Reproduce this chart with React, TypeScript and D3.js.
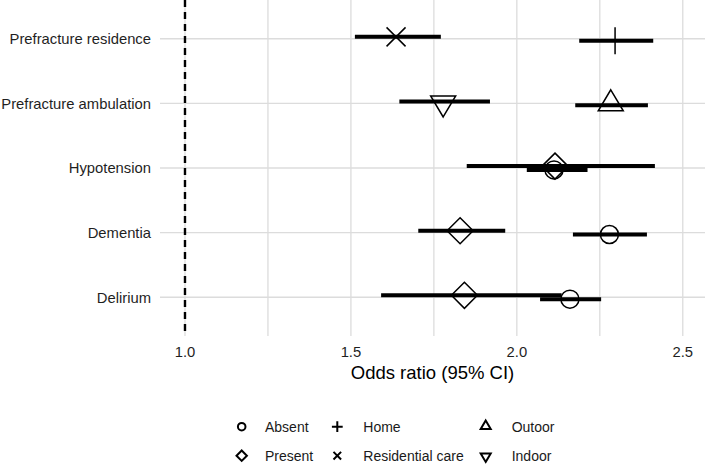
import React from "react";
import * as d3 from "d3";

// ---- data ----
const categories = [
  "Prefracture residence",
  "Prefracture ambulation",
  "Hypotension",
  "Dementia",
  "Delirium",
];
// first series in each row (upper in dodge)
const levelA = ["Residential care", "Indoor", "Present", "Present", "Present"];
const orA = [1.636, 1.778, 2.115, 1.829, 1.842];
const loA = [1.512, 1.646, 1.849, 1.703, 1.591];
const hiA = [1.771, 1.919, 2.416, 1.965, 2.135];
// second series in each row (lower in dodge)
const levelB = ["Home", "Outoor", "Absent", "Absent", "Absent"];
const orB = [2.296, 2.283, 2.112, 2.279, 2.16];
const loB = [2.188, 2.176, 2.03, 2.169, 2.07];
const hiB = [2.411, 2.395, 2.213, 2.392, 2.254];

const xTicks = [1.0, 1.5, 2.0, 2.5];
const xMinor = [1.25, 1.75, 2.25];
const refValue = 1.0;

const legendRow1 = ["Absent", "Home", "Outoor"];
const legendRow2 = ["Present", "Residential care", "Indoor"];

const shapeOf: Record<string, string> = {
  Absent: "circle",
  Present: "diamond",
  Home: "plus",
  "Residential care": "cross",
  Outoor: "triUp",
  Indoor: "triDown",
};

function shapePath(shape: string, s: number): string {
  switch (shape) {
    case "circle": {
      const r = 9 * s;
      return `M${-r},0A${r},${r} 0 1,0 ${r},0A${r},${r} 0 1,0 ${-r},0Z`;
    }
    case "diamond": {
      const h = 13 * s;
      return `M0,${-h}L${h},0L0,${h}L${-h},0Z`;
    }
    case "plus": {
      const h = 13.5 * s;
      return `M${-h},0L${h},0M0,${-h}L0,${h}`;
    }
    case "cross": {
      const h = 9.5 * s;
      return `M${-h},${-h}L${h},${h}M${-h},${h}L${h},${-h}`;
    }
    case "triUp": {
      const w = 12.5 * s;
      return `M0,${-15.5 * s}L${w},${5.5 * s}L${-w},${5.5 * s}Z`;
    }
    case "triDown": {
      const w = 12.5 * s;
      return `M0,${15.5 * s}L${w},${-5.5 * s}L${-w},${-5.5 * s}Z`;
    }
  }
  return "";
}

const W = 708;
const H = 464;
const panel = { left: 160, right: 705, top: 0, bottom: 336 };
const FONT = "'Liberation Sans', Arial, Helvetica, sans-serif";

export default function App() {
  const x = d3
    .scaleLinear()
    .domain([0.9247, 2.567])
    .range([panel.left, panel.right]);
  const y = d3
    .scalePoint<string>()
    .domain(categories)
    .range([panel.top, panel.bottom])
    .padding(0.6);
  const dodge = 1.9;

  const rows = categories.map((c, i) => ({
    cat: c,
    y: y(c) as number,
    items: [
      { level: levelA[i], or: orA[i], lo: loA[i], hi: hiA[i], dy: -dodge },
      { level: levelB[i], or: orB[i], lo: loB[i], hi: hiB[i], dy: dodge },
    ],
  }));

  const gridColor = "#dcdcdc";
  const legendSymX = [241.7, 337.3, 485.7];
  const legendTextX = [265, 363.3, 511.7];
  const legendY = [426.7, 455.7];

  return (
    <svg
      width={W}
      height={H}
      style={{ position: "absolute", left: 0, top: 0, display: "block" }}
      fontFamily={FONT}
    >
      <rect x={0} y={0} width={W} height={H} fill="#ffffff" />
      {[...xMinor, ...xTicks].map((t) => (
        <line
          key={"v" + t}
          x1={x(t)}
          x2={x(t)}
          y1={panel.top}
          y2={panel.bottom}
          stroke={gridColor}
          strokeWidth={1.3}
        />
      ))}
      {rows.map((r) => (
        <line
          key={"h" + r.cat}
          x1={panel.left}
          x2={panel.right}
          y1={r.y}
          y2={r.y}
          stroke={gridColor}
          strokeWidth={1.3}
        />
      ))}
      <line
        x1={x(refValue)}
        x2={x(refValue)}
        y1={panel.top}
        y2={panel.bottom}
        stroke="#000"
        strokeWidth={2.4}
        strokeDasharray="7,5"
      />
      {rows.map((r) =>
        r.items.map((it) => (
          <line
            key={"e" + r.cat + it.level}
            x1={x(it.lo)}
            x2={x(it.hi)}
            y1={r.y + it.dy}
            y2={r.y + it.dy}
            stroke="#000"
            strokeWidth={4}
          />
        ))
      )}
      {rows.map((r) =>
        r.items.map((it) => (
          <path
            key={"p" + r.cat + it.level}
            transform={`translate(${x(it.or)},${r.y + it.dy})`}
            d={shapePath(shapeOf[it.level], 1)}
            fill="none"
            stroke="#000"
            strokeWidth={1.5}
          />
        ))
      )}
      {rows.map((r) => (
        <text
          key={"yl" + r.cat}
          x={151}
          y={r.y}
          dy="0.36em"
          textAnchor="end"
          fontSize={14.8}
          fill="#1f1f1f"
        >
          {r.cat}
        </text>
      ))}
      {xTicks.map((t) => (
        <text
          key={"xt" + t}
          x={x(t)}
          y={357}
          textAnchor="middle"
          fontSize={14.8}
          fill="#1f1f1f"
        >
          {d3.format(".1f")(t)}
        </text>
      ))}
      <text
        x={(panel.left + panel.right) / 2}
        y={378.5}
        textAnchor="middle"
        fontSize={18.5}
        fill="#000"
      >
        Odds ratio (95% CI)
      </text>
      {[legendRow1, legendRow2].map((row, ri) =>
        row.map((lab, ci) => (
          <g key={"lg" + lab}>
            <path
              transform={`translate(${legendSymX[ci]},${legendY[ri]})`}
              d={shapePath(shapeOf[lab], shapeOf[lab] === "circle" ? 0.42 : 0.4)}
              fill="none"
              stroke="#000"
              strokeWidth={2}
            />
            <text
              x={legendTextX[ci]}
              y={legendY[ri]}
              dy="0.36em"
              fontSize={14}
              fill="#1a1a1a"
            >
              {lab}
            </text>
          </g>
        ))
      )}
    </svg>
  );
}
